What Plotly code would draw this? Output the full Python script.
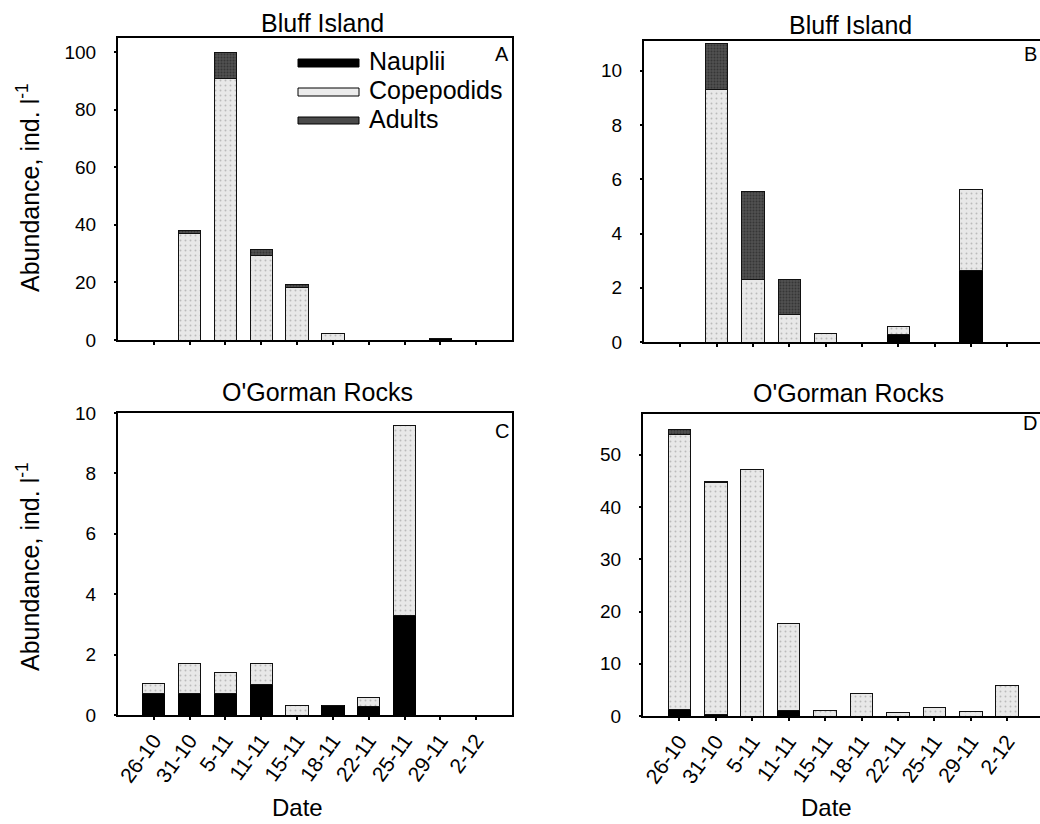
import plotly.graph_objects as go

dates = ["26-10", "31-10", "5-11", "11-11", "15-11", "18-11", "22-11", "25-11", "29-11", "2-12"]

# Panel A - Bluff Island
a_nauplii = [0, 0, 0, 0, 0, 0, 0, 0, 0.6, 0]
a_copepodids = [0, 37.1, 90.9, 29.2, 18.3, 2.3, 0, 0, 0, 0]
a_adults = [0, 0.8, 8.9, 2.3, 1.1, 0, 0, 0, 0, 0]

# Panel B - Bluff Island
b_nauplii = [0, 0, 0, 0, 0, 0, 0.28, 0, 2.63, 0]
b_copepodids = [0, 9.3, 2.29, 1.0, 0.32, 0, 0.31, 0, 3.0, 0]
b_adults = [0, 1.7, 3.26, 1.29, 0, 0, 0, 0, 0, 0]

# Panel C - O'Gorman Rocks
c_nauplii = [0.72, 0.7, 0.72, 1.0, 0, 0.3, 0.28, 3.28, 0, 0]
c_copepodids = [0.31, 1.0, 0.69, 0.7, 0.3, 0, 0.31, 6.32, 0, 0]
c_adults = [0, 0, 0, 0, 0, 0, 0, 0, 0, 0]

# Panel D - O'Gorman Rocks
d_nauplii = [1.2, 0.2, 0, 1.0, 0, 0, 0, 0, 0, 0]
d_copepodids = [52.6, 44.5, 47.1, 16.7, 1.0, 4.3, 0.6, 1.6, 0.8, 5.9]
d_adults = [1.0, 0.1, 0, 0, 0, 0, 0, 0, 0, 0]

series_names = ["Nauplii", "Copepodids", "Adults"]
panel_titles = ["Bluff Island", "Bluff Island", "O'Gorman Rocks", "O'Gorman Rocks"]
panel_letters = ["A", "B", "C", "D"]
y_ticks = [[0, 20, 40, 60, 80, 100], [0, 2, 4, 6, 8, 10], [0, 2, 4, 6, 8, 10], [0, 10, 20, 30, 40, 50]]
y_ranges = [[0, 104.9], [0, 11.1], [0, 10], [0, 57.8]]
x_ranges = [[-1, 10], [-1, 9.9], [-1, 10], [-1, 9.9]]

W, H = 1040, 824
FONT = "Liberation Sans, Arial, sans-serif"

# plot-area pixel boxes (left, right, top, bottom)
boxes = [(118, 512, 38, 340), (644, 1040, 41, 342), (118, 512, 413, 715), (643, 1040, 414, 716)]

styles = {
    "Nauplii": dict(color="#000000", line=dict(color="#000000", width=1)),
    "Copepodids": dict(color="#e4e4e4", line=dict(color="#111111", width=1),
                       pattern=dict(shape=".", bgcolor="#e8e8e8", fgcolor="#8c8c8c", size=5, solidity=0.12)),
    "Adults": dict(color="#555555", line=dict(color="#111111", width=1),
                   pattern=dict(shape=".", bgcolor="#505050", fgcolor="#1c1c1c", size=3, solidity=0.35)),
}

data = [
    (a_nauplii, a_copepodids, a_adults),
    (b_nauplii, b_copepodids, b_adults),
    (c_nauplii, c_copepodids, c_adults),
    (d_nauplii, d_copepodids, d_adults),
]

fig = go.Figure()
for i, panel in enumerate(data):
    sfx = "" if i == 0 else str(i + 1)
    for name, vals in zip(series_names, panel):
        fig.add_trace(go.Bar(
            x=dates, y=vals, name=name, width=0.62,
            marker=styles[name], xaxis="x" + sfx, yaxis="y" + sfx,
            showlegend=False,
        ))

layout = dict(
    width=W, height=H, barmode="stack", autosize=False,
    margin=dict(l=0, r=0, t=0, b=0, pad=0, autoexpand=False),
    paper_bgcolor="white", plot_bgcolor="white",
    font=dict(family=FONT, color="black", size=19),
)

for i, (l, r, t, b) in enumerate(boxes):
    sfx = "" if i == 0 else str(i + 1)
    bottom_row = i >= 2
    right_col = i % 2 == 1
    layout["xaxis" + sfx] = dict(
        domain=[l / W, r / W], anchor="y" + sfx, automargin=False,
        type="category", categoryorder="array", categoryarray=dates,
        range=x_ranges[i], showline=True, linecolor="black", linewidth=2,
        mirror=True, ticks="outside", ticklen=3, tickwidth=2, tickcolor="black",
        showticklabels=bottom_row, tickangle=-54, tickfont=dict(size=21),
        showgrid=False, zeroline=False, fixedrange=True,
    )
    layout["yaxis" + sfx] = dict(
        domain=[(H - b) / H, (H - t) / H], anchor="x" + sfx, automargin=False,
        range=y_ranges[i], tickvals=y_ticks[i], showline=True, linecolor="black",
        linewidth=2, mirror=not right_col, ticks="outside", ticklen=2, tickwidth=2,
        tickcolor="black", tickfont=dict(size=19), ticklabelstandoff=14,
        showgrid=False, zeroline=False, fixedrange=True,
    )

annotations = []
for i, (l, r, t, b) in enumerate(boxes):
    cx = [322, 850, 317, 848][i]
    cy = [23, 25, 392, 393][i]
    annotations.append(dict(text=panel_titles[i], x=cx / W, y=(H - cy) / H, xref="paper", yref="paper",
                            xanchor="center", yanchor="middle", showarrow=False, font=dict(size=25)))
letter_pos = [(511, 54, "right"), (1039, 54, "right"), (511, 431, "right"), (1039, 423, "right")]
for i, (lx, ly, anc) in enumerate(letter_pos):
    annotations.append(dict(text=panel_letters[i], x=lx / W, y=(H - ly) / H, xref="paper", yref="paper",
                            xanchor=anc, yanchor="middle", showarrow=False, font=dict(size=20)))
for cy in [188, 567]:
    annotations.append(dict(text="Abundance, ind. l<sup>-1</sup>", x=28 / W, y=(H - cy) / H,
                            xref="paper", yref="paper", textangle=-90, xanchor="center",
                            yanchor="middle", showarrow=False, font=dict(size=25)))
for cx in [297, 826]:
    annotations.append(dict(text="Date", x=cx / W, y=(H - 807) / H, xref="paper", yref="paper",
                            xanchor="center", yanchor="middle", showarrow=False, borderpad=0,
                            font=dict(size=24)))

# legend drawn inside panel A
l, r, t, b = boxes[0]
def dx(px):
    return (px - l) / (r - l)
def dy(py):
    return (b - py) / (b - t)

legend_rows = [("Nauplii", 59, 67, 61), ("Copepodids", 88, 96, 90), ("Adults", 117, 124, 119)]
shapes = []
sw_fill = {"Nauplii": "#000000", "Copepodids": "#ececec", "Adults": "#4a4a4a"}
for name, y0, y1, ty in legend_rows:
    shapes.append(dict(type="rect", xref="x domain", yref="y domain",
                       x0=dx(298), x1=dx(359), y0=dy(y1), y1=dy(y0),
                       fillcolor=sw_fill[name], line=dict(color="black", width=1)))
    annotations.append(dict(text=name, x=dx(367), y=dy(ty), xref="x domain", yref="y domain",
                            xanchor="left", yanchor="middle", showarrow=False, font=dict(size=25)))

layout["annotations"] = annotations
layout["shapes"] = shapes
fig.update_layout(**layout)
fig.write_html("out.html", config={"displayModeBar": False},
               post_script="document.body.style.margin='0px';document.body.style.overflow='hidden';")
